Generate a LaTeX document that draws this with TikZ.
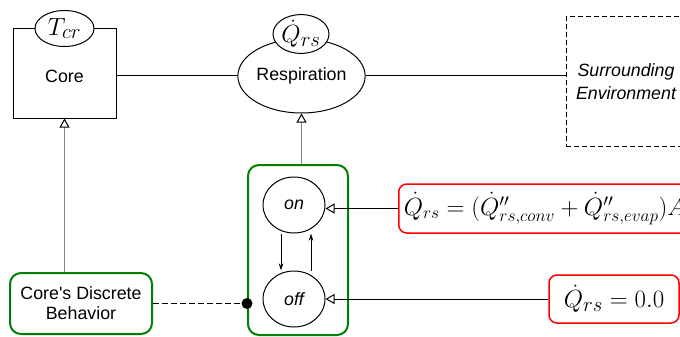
\documentclass[tikz,border=0pt]{standalone}
\usepackage[no-math]{fontspec}
\setsansfont{Liberation Sans}[Ligatures=TeXOff]
\usetikzlibrary{arrows.meta,shapes.geometric}
\definecolor{stategreen}{RGB}{0,128,0}
\definecolor{eqred}{RGB}{255,0,0}
\definecolor{linkgray}{RGB}{130,130,130}
\begin{document}
\begin{tikzpicture}[x=1pt,y=-1pt,
  lbl/.style={font=\sffamily\fontsize{17.8}{20}\selectfont, align=center},
  ilbl/.style={font=\sffamily\itshape\fontsize{17.8}{23}\selectfont, align=center},
  mth/.style={font=\fontsize{25.6}{30}\selectfont},
  bigmth/.style={font=\fontsize{27.5}{32}\selectfont},
  blockbox/.style={draw, line width=1pt, inner sep=0pt},
  oval/.style={ellipse, draw, line width=1pt, fill=white, inner sep=0pt},
  greenbox/.style={draw=stategreen, line width=2pt, rounded corners=11pt, inner sep=0pt},
  redbox/.style={draw=eqred, line width=1.5pt, rounded corners=8pt, inner sep=0pt},
  conn/.style={line width=1pt},
  realize/.style={line width=1pt, -{Triangle[length=9pt, width=10pt, color=black, fill=white]}},
  trans/.style={line width=1pt, -{Stealth[length=7pt, width=4.5pt]}}
]
\clip (0,0) rectangle (680,337);

% structural blocks
\node[blockbox, minimum width=103pt, minimum height=89pt] (core) at (64.5,73.5) {};
\node[lbl] (corelabel) at ([yshift=-2.5pt]core.center) {Core};
\node[oval, bigmth, minimum width=59pt, minimum height=36pt] (tcr) at (core.north) {$T_{cr}$};

\node[oval, lbl, minimum width=117pt, minimum height=74pt] (resp) at (301.5,76) {Respiration};
\node[oval, bigmth, minimum width=56pt, minimum height=38pt] (qrs) at (301,34) {$\dot{Q}_{rs}$};

\node[blockbox, dashed, dash pattern=on 5pt off 3pt, ilbl, minimum width=120pt, minimum height=129pt] (env) at (626,81.5) {Surrounding\\Environment};

% behaviour blocks
\node[greenbox, lbl, minimum width=142pt, minimum height=61pt] (behav) at (81,303.5) {Core's Discrete\\Behavior};
\node[greenbox, minimum width=100pt, minimum height=170pt] (group) at (298,250) {};
\node[oval, ilbl, minimum width=62pt, minimum height=56pt] (on) at (294,205) {on};
\node[oval, ilbl, minimum width=62pt, minimum height=56pt] (off) at (294,299) {off};

% equations
\node[redbox, mth, anchor=west, minimum height=49pt, inner xsep=5pt] (eqon) at (398,208.5)
  {$\dot{Q}_{rs} = (\dot{Q}''_{rs,conv} + \dot{Q}''_{rs,evap})A$};
\node[redbox, bigmth, minimum width=130pt, minimum height=48pt] (eqoff) at (614,299) {$\dot{Q}_{rs} = 0.0$};

% connectors
\draw[conn] (resp.west -| core.east) -- (resp.west);
\draw[conn] (resp.east) -- (resp.east -| env.west);

\draw[realize, draw=linkgray] (core.south |- behav.north) -- (core.south);
\draw[realize, draw=linkgray] (resp.south |- group.north) -- (resp.south);

\draw[trans] ([xshift=-13pt]on.south) -- ([xshift=-13pt]off.north);
\draw[trans] ([xshift=17pt]off.north) -- ([xshift=17pt]on.south);

\draw[realize] (eqon.west) -- (eqon.west -| on.east);
\draw[realize] (eqoff.west) -- (eqoff.west -| off.east);

\draw[conn, dashed, dash pattern=on 6pt off 3pt] (behav.east) -- (behav.east -| group.west);
\fill (behav.east -| group.west) circle (5.5pt);
\end{tikzpicture}
\end{document}
